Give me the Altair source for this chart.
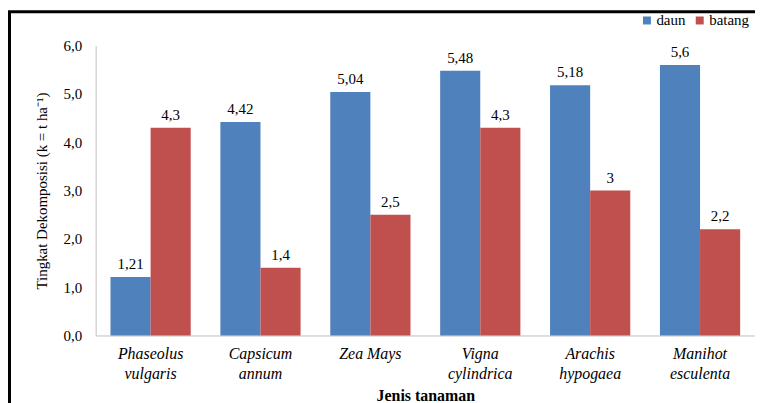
import altair as alt
import pandas as pd

plants = ["Phaseolus vulgaris", "Capsicum annum", "Zea Mays",
          "Vigna cylindrica", "Arachis hypogaea", "Manihot esculenta"]
daun = [1.21, 4.42, 5.04, 5.48, 5.18, 5.6]
batang = [4.3, 1.4, 2.5, 4.3, 3.0, 2.2]
series = ["daun", "batang"]
colors = ["#4F81BD", "#C0504D"]

rows = []
for p, d, b in zip(plants, daun, batang):
    rows.append({"plant": p, "series": "daun", "value": d})
    rows.append({"plant": p, "series": "batang", "value": b})
df = pd.DataFrame(rows)

FONT = "Liberation Serif"
W, H = 662, 291

base = alt.Chart(df).encode(
    x=alt.X("plant:N", sort=plants,
            scale=alt.Scale(paddingInner=0.27, paddingOuter=0.135),
            axis=alt.Axis(title="Jenis tanaman", labelAngle=0,
                          labelExpr="datum.label == 'Zea Mays' ? datum.label : split(datum.label, ' ')",
                          labelFont=FONT, labelFontSize=16, labelFontStyle="italic",
                          labelColor="#000", labelLineHeight=20, labelPadding=10,
                          ticks=False, domainColor="#BFBFBF",
                          titleFont=FONT, titleFontSize=16, titleFontWeight="bold",
                          titleColor="#000", titlePadding=6)),
    xOffset=alt.XOffset("series:N", sort=series),
)

bars = base.mark_bar().encode(
    y=alt.Y("value:Q", scale=alt.Scale(domain=[0, 6]),
            axis=alt.Axis(title="Tingkat Dekomposisi (k = t ha⁻¹)",
                          values=[0, 1, 2, 3, 4, 5, 6],
                          labelExpr="replace(format(datum.value, '.1f'), '.', ',')",
                          labelFont=FONT, labelFontSize=15, labelColor="#000",
                          labelPadding=14, ticks=False, grid=False,
                          domainColor="#BFBFBF",
                          titleFont=FONT, titleFontSize=15, titleFontWeight="normal",
                          titleColor="#000", titlePadding=14)),
    color=alt.Color("series:N", sort=series,
                    scale=alt.Scale(domain=series, range=colors),
                    legend=alt.Legend(title=None, orient="none", direction="horizontal",
                                      legendX=546, legendY=-33,
                                      symbolType="square", symbolSize=64,
                                      symbolStrokeWidth=0,
                                      labelFont=FONT, labelFontSize=15,
                                      labelColor="#000", columnPadding=6,
                                      labelOffset=2)),
)

texts = base.transform_calculate(
    lab="replace(toString(datum.value), '.', ',')"
).mark_text(font=FONT, fontSize=15, color="#000", baseline="bottom", dy=-5).encode(
    y="value:Q", text="lab:N"
)

frame_df = pd.DataFrame({"k": [0]})
left_line = alt.Chart(frame_df).mark_rule(color="#000", strokeWidth=3).encode(
    x=alt.value(-86.5), y=alt.value(-34), y2=alt.value(H + 70))
top_line = alt.Chart(frame_df).mark_rule(color="#000", strokeWidth=3).encode(
    x=alt.value(-88), x2=alt.value(W + 20), y=alt.value(-34))

chart = alt.layer(bars, texts, left_line, top_line).properties(
    width=W, height=H,
    padding={"left": 88, "top": 37, "right": 0, "bottom": 67},
    autosize=alt.AutoSizeParams(type="none"),
).configure_view(stroke=None)

chart.save("out.html", embed_options={"renderer": "svg", "actions": False})
